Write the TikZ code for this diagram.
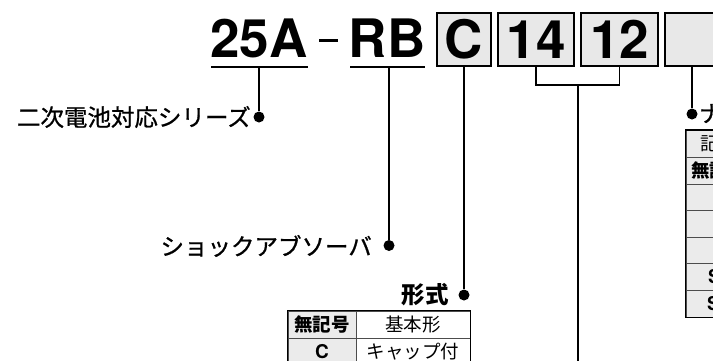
\documentclass[tikz,border=0pt]{standalone}
\usepackage{fontspec}
\setmainfont{TeX Gyre Heros}
\newfontfamily\jp{Noto Sans CJK JP}
\newfontfamily\jpm[FakeBold=0.8]{Noto Sans CJK JP}
\begin{document}
\begin{tikzpicture}[x=1pt,y=-1pt,
  ttl/.style={inner sep=0pt,font=\fontsize{53}{53}\selectfont\bfseries},
  codebox/.style={draw,line width=1.4pt,fill=black!9,inner sep=0pt,minimum height=53pt,
     text height=38pt,text depth=0pt,font=\fontsize{53}{53}\selectfont\bfseries},
  conn/.style={line width=1.8pt},
  uline/.style={line width=2pt},
  dot/.style={circle,fill=black,inner sep=0pt,minimum size=11pt},
  lab/.style={inner sep=0pt,font=\jpm\fontsize{23.5}{23.5}\selectfont},
  labb/.style={inner sep=0pt,font=\jp\fontsize{23.5}{23.5}\selectfont\bfseries},
  cellh/.style={draw=black!70,line width=0.8pt,fill=black!8,inner sep=0pt,minimum height=27pt,
     font=\jp\fontsize{18.5}{18.5}\selectfont\bfseries},
  cellt/.style={draw=black!70,line width=0.8pt,fill=white,inner sep=0pt,minimum height=27pt,
     font=\jp\fontsize{18.5}{18.5}\selectfont},
  frame/.style={draw=black,line width=1.3pt}
]
\useasboundingbox (0,0) rectangle (713,360);
\clip (0,0) rectangle (713,360);
\fill[white] (0,0) rectangle (713,360);

% ---- model code ----
\node[ttl,anchor=base] (t25) at (259,57.5) {25A};
\node[inner sep=0pt] (tdash) at (328.5,40) {\rule{19pt}{3pt}};
\node[ttl,anchor=base] (tRB) at (387,57.5) {RB};
\node[codebox,minimum width=54pt] (bC) at (464,39.5) {C};
\node[codebox,minimum width=76pt] (b14) at (536,39.5) {14};
\node[codebox,minimum width=77pt] (b12) at (619.5,39.5) {12};
\node[codebox,minimum width=54pt] (bX) at (692,39.5) {};

% underlines
\coordinate (u25a) at (211,66.5); \coordinate (u25b) at (308,66.5);
\coordinate (uRBa) at (350,66.5); \coordinate (uRBb) at (425,66.5);
\draw[uline] (u25a) -- (u25b);
\draw[uline] (uRBa) -- (uRBb);

% ---- series ----
\coordinate (s25) at (259,67);
\node[dot] (d25) at (259,117) {};
\node[lab,anchor=east] (l25) at (251,117) {二次電池対応シリーズ};
\draw[conn] (s25) -- (d25);

% ---- shock absorber ----
\coordinate (sRB) at (389,67);
\node[dot] (dRB) at (389,245.5) {};
\node[lab,anchor=east] (lRB) at (372,246) {ショックアブソーバ};
\draw[conn] (sRB) -- (dRB);

% ---- type ----
\node[dot] (dC) at (464,295) {};
\node[labb,anchor=east] (lC) at (449,295) {形式};
\draw[conn] (bC.south) -- (dC);

\node[cellh,minimum width=68pt] (c11) at (322,324.5) {無記号};
\node[cellt,minimum width=114pt] (c12) at (413,324.5) {基本形};
\node[cellh,minimum width=68pt,font=\fontsize{19}{19}\selectfont\bfseries] (c21) at (322,351.5) {C};
\node[cellt,minimum width=114pt] (c22) at (413,351.5) {キャップ付};
\draw[frame] (c11.north west) rectangle (c22.south east);

% ---- size bracket ----
\coordinate (j) at (578,85);
\coordinate (jend) at (578,370);
\draw[conn] (b14.south) |- (j);
\draw[conn] (b12.south) |- (j);
\draw[conn] (j) -- (jend);

% ---- last box ----
\node[dot] (dX) at (692,114) {};
\node[lab,anchor=west] (lX) at (699,114) {ナット};
\draw[conn] (bX.south) -- (dX);

\node[cellh,minimum width=66pt,font=\jp\fontsize{18.5}{18.5}\selectfont] (r1) at (719,144) {記号};
\node[cellh,minimum width=66pt] (r2) at (719,170.5) {無記号};
\node[cellh,minimum width=66pt] (r3) at (719,197.5) {};
\node[cellh,minimum width=66pt] (r4) at (719,224) {};
\node[cellh,minimum width=66pt] (r5) at (719,250.5) {};
\node[cellh,minimum width=66pt] (r6) at (719,277) {};
\node[cellh,minimum width=66pt] (r7) at (719,303.5) {};
\node[inner sep=0pt,anchor=west,font=\fontsize{19}{19}\selectfont\bfseries] (s6) at (708,277) {S};
\node[inner sep=0pt,anchor=west,font=\fontsize{19}{19}\selectfont\bfseries] (s7) at (707,303.5) {S};
\draw[frame] (r1.north west) rectangle (r7.south east);
\end{tikzpicture}
\end{document}
